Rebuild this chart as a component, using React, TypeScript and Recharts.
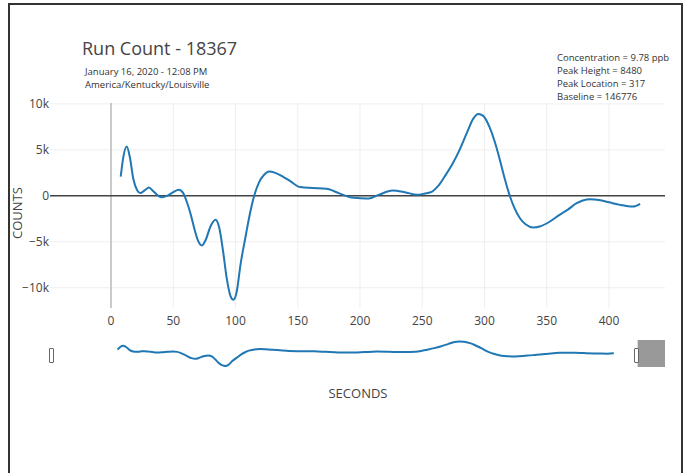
import React from "react";
import {
  LineChart,
  Line,
  XAxis,
  YAxis,
  CartesianGrid,
  ReferenceLine,
  ReferenceArea,
} from "recharts";

const seconds = [
  7.8, 10, 12.6, 15, 18, 21, 23.5, 27, 30.5, 34, 38, 41, 45, 50, 54.5, 58, 61,
  64, 67, 70, 73, 76, 80, 84, 87, 90, 93, 96, 98.3, 101, 104, 108, 111.5, 115,
  119, 123, 127, 132, 138, 144, 152, 162, 173, 183, 193, 200, 207, 215, 226,
  236, 246, 252, 258, 263, 268, 274, 280, 286, 291, 295, 299, 304, 308, 312,
  316, 320.5, 324, 328.5, 333, 339, 345, 352.6, 360, 367, 374, 379, 385, 392,
  400, 409, 414, 419.5, 425,
];

const counts = [
  2100, 4300, 5360, 4300, 1800, 600, 300, 600, 900, 500, 0, -150, 0, 400, 650,
  300, -700, -2000, -3600, -4900, -5400, -4800, -3300, -2600, -3500, -6000,
  -9000, -10900, -11300, -10400, -7500, -4500, -2000, 0, 1500, 2300, 2650, 2500,
  2100, 1600, 950, 850, 760, 300, -180, -250, -290, 100, 580, 400, 110, 250,
  470, 1100, 2100, 3400, 5000, 6900, 8400, 8910, 8700, 7500, 6000, 4100, 2000,
  -70, -1300, -2430, -3100, -3440, -3300, -2790, -2100, -1500, -800, -500, -360,
  -450, -700, -980, -1100, -1160, -870,
];

const xTicks = [0, 50, 100, 150, 200, 250, 300, 350, 400];
const yTicks = [-10000, -5000, 0, 5000, 10000];

const infoLines = [
  "Concentration = 9.78 ppb",
  "Peak Height = 8480",
  "Peak Location = 317",
  "Baseline = 146776",
];

const data = seconds.map((s, i) => ({ s, c: counts[i] }));

const X_DOMAIN: [number, number] = [-49, 445];
const SLIDER_DOMAIN: [number, number] = [-49, 468];
const Y_DOMAIN: [number, number] = [-12200, 10100];

const FONT = '"Open Sans", verdana, arial, sans-serif';
const TEXT = "#444";

function fmtK(v: number): string {
  if (v === 0) return "0";
  const k = Math.abs(v) / 1000;
  return (v < 0 ? "\u2212" : "") + k + "k";
}

const handleStyle: React.CSSProperties = {
  position: "absolute",
  top: 348,
  width: 3,
  height: 13,
  background: "#fff",
  border: "1px solid #666",
  borderRadius: 1,
};

export default function App() {
  return (
    <div
      style={{
        position: "absolute",
        left: 0,
        top: 0,
        width: 686,
        height: 473,
        background: "#fff",
        overflow: "hidden",
        fontFamily: FONT,
        color: TEXT,
      }}
    >
      <div
        style={{
          position: "absolute",
          left: 8,
          top: 3,
          width: 671,
          height: 480,
          borderLeft: "2px solid #333",
          borderTop: "2px solid #333",
          borderRight: "2px solid #333",
        }}
      />

      <div style={{ position: "absolute", left: 82, top: 36, fontSize: 18, lineHeight: "24px" }}>
        Run Count - 18367
      </div>
      <div
        style={{
          position: "absolute",
          left: 85,
          top: 65,
          fontSize: 9.5,
          lineHeight: "13px",
          color: "#333",
        }}
      >
        <div>January 16, 2020 - 12:08 PM</div>
        <div>America/Kentucky/Louisville</div>
      </div>
      <div
        style={{
          position: "absolute",
          left: 557,
          top: 51,
          fontSize: 9.5,
          lineHeight: "13px",
          color: "#333",
        }}
      >
        {infoLines.map((t) => (
          <div key={t}>{t}</div>
        ))}
      </div>

      <div
        style={{
          position: "absolute",
          left: 17,
          top: 213,
          fontSize: 13,
          transform: "translate(-50%, -50%) rotate(-90deg)",
          whiteSpace: "nowrap",
        }}
      >
        COUNTS
      </div>

      <div style={{ position: "absolute", left: 0, top: 0 }}>
        <LineChart
          width={686}
          height={338}
          data={data}
          margin={{ top: 103, right: 21, bottom: 0, left: 0 }}
        >
          <CartesianGrid
            stroke="#eee"
            strokeWidth={1}
            horizontalValues={yTicks}
            verticalValues={xTicks}
          />
          <XAxis
            dataKey="s"
            type="number"
            domain={X_DOMAIN}
            ticks={xTicks}
            allowDataOverflow
            axisLine={false}
            tickLine={false}
            height={30}
            tick={{ fill: TEXT, fontSize: 12, fontFamily: FONT }}
          />
          <YAxis
            type="number"
            domain={Y_DOMAIN}
            ticks={yTicks}
            allowDataOverflow
            axisLine={false}
            tickLine={false}
            width={50}
            tickSize={0}
            tickMargin={1}
            tickFormatter={fmtK}
            tick={{ fill: TEXT, fontSize: 12, fontFamily: FONT }}
          />
          <ReferenceLine x={0} stroke="#bbb" strokeWidth={1.5} />
          <ReferenceLine y={0} stroke="#444" strokeWidth={1.5} />
          <Line
            type="monotone"
            dataKey="c"
            stroke="#1f77b4"
            strokeWidth={2}
            dot={false}
            isAnimationActive={false}
          />
        </LineChart>
      </div>

      <div style={{ position: "absolute", left: 0, top: 340 }}>
        <LineChart
          width={686}
          height={27}
          data={data}
          margin={{ top: 0, right: 21, bottom: 0, left: 50 }}
        >
          <XAxis dataKey="s" type="number" domain={SLIDER_DOMAIN} hide />
          <YAxis type="number" domain={Y_DOMAIN} hide allowDataOverflow />
          <ReferenceArea
            x1={X_DOMAIN[1]}
            x2={SLIDER_DOMAIN[1]}
            fill="#999"
            fillOpacity={1}
            stroke="none"
          />
          <Line
            type="monotone"
            dataKey="c"
            stroke="#1f77b4"
            strokeWidth={2}
            dot={false}
            isAnimationActive={false}
          />
        </LineChart>
      </div>
      <div style={{ ...handleStyle, left: 49 }} />
      <div style={{ ...handleStyle, left: 634 }} />

      <div
        style={{
          position: "absolute",
          left: 358,
          top: 393,
          fontSize: 13,
          transform: "translate(-50%, -50%)",
          whiteSpace: "nowrap",
        }}
      >
        SECONDS
      </div>
    </div>
  );
}
